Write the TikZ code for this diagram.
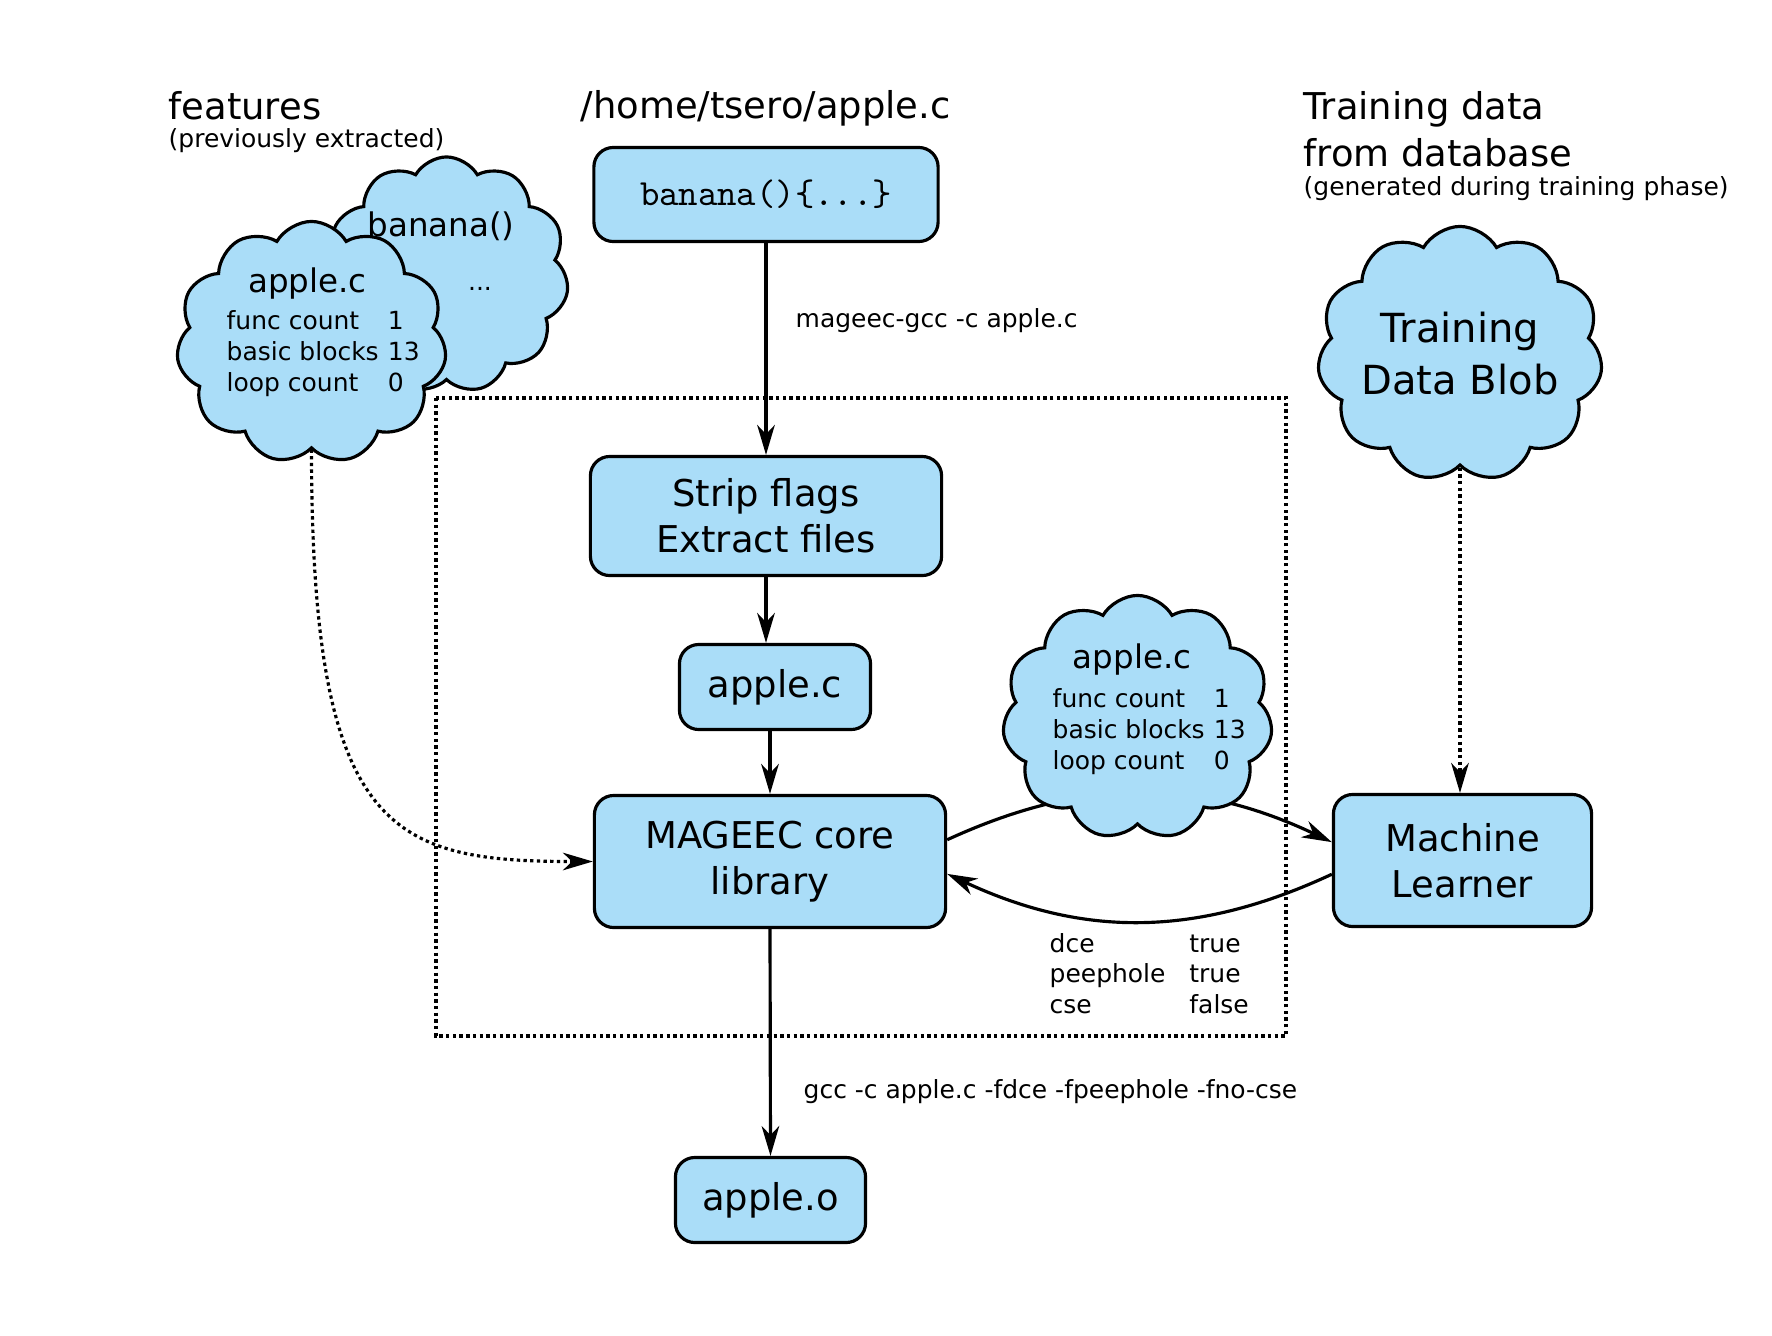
\documentclass[tikz,border=0pt]{standalone}
\usepackage{fontspec}
\setmainfont{DejaVu Sans}
\usepackage{xcolor}
\usetikzlibrary{shapes.symbols, arrows.meta, backgrounds}

\definecolor{boxblue}{RGB}{170,221,248}

\begin{document}
\begin{tikzpicture}[x=0.01cm, y=0.01cm,
    box/.style={draw, line width=0.9pt, fill=boxblue, rounded corners=5.5pt, inner sep=0pt, align=center, font=\fontsize{10.5}{13.1}\selectfont},
    puff/.style={draw, line width=0.9pt, fill=boxblue, cloud, cloud puffs=11, cloud puff arc=120, inner sep=0pt, align=center},
    heading/.style={inner sep=0pt, anchor=base west, font=\fontsize{10.5}{13.1}\selectfont},
    note/.style={inner sep=0pt, anchor=base west, font=\fontsize{7.1}{8.9}\selectfont},
    puffname/.style={inner sep=0pt, anchor=base, font=\fontsize{9.25}{11}\selectfont},
    arrow/.style={-{Stealth[length=8.5pt, width=5pt, inset=2.6pt]}, line width=0.9pt},
    dotarrow/.style={arrow, dash pattern=on 0.95pt off 0.95pt},
  ]
    \useasboundingbox (0,0) rectangle (1772,-1336);

    % headings
    \node[heading] (feathead) at (168,-119) {features};
    \node[note] (featnote) at (168,-147) {(previously extracted)};
    \node[heading] (srchead) at (580,-118) {/home/tsero/apple.c};
    \node[heading] (trainhead) at (1303,-119) {Training data};
    \node[heading] (trainheadb) at (1303,-166) {from database};
    \node[note] (trainnote) at (1303,-195) {(generated during training phase)};

    % boxes
    \node[box, minimum width=3.44cm, minimum height=0.94cm, font=\fontsize{10.5}{13.1}\selectfont\ttfamily] (code) at (766,-194.5) {banana()\{...\}};
    \node[box, minimum width=3.51cm, minimum height=1.19cm] (strip) at (766,-516) {Strip flags\\Extract files};
    \node[box, minimum width=1.91cm, minimum height=0.85cm] (applec) at (775,-687) {apple.c};
    \node[box, minimum width=3.51cm, minimum height=1.32cm] (core) at (770,-861.5) {MAGEEC core\\library};
    \node[box, minimum width=1.90cm, minimum height=0.85cm] (appleo) at (770.5,-1200) {apple.o};
    \node[box, minimum width=2.58cm, minimum height=1.32cm] (learner) at (1462.5,-860.5) {Machine\\Learner};

    % clouds
    \node[puff, minimum width=2.44cm, minimum height=2.36cm] (bfeat) at (446.5,-275) {};
    \node[puffname] (bfeatname) at (441,-236) {banana()};
    \node[note, anchor=base] (bfeatmore) at (480,-290) {...};
    \node[puff, minimum width=2.70cm, minimum height=2.42cm] (afeat) at (311.5,-342.5) {};
    \node[puffname] (afeatname) at (307.5,-292) {apple.c};
    \node[note] (afeatlist) at (226,-329) {\begin{tabular}[t]{@{}l@{\hspace{2.6pt}}l@{}}func count & 1\\basic blocks & 13\\loop count & 0\end{tabular}};
    \node[puff, minimum width=2.70cm, minimum height=2.44cm] (pfeat) at (1137.5,-717.5) {};
    \node[puffname] (pfeatname) at (1132,-668) {apple.c};
    \node[note] (pfeatlist) at (1052,-707) {\begin{tabular}[t]{@{}l@{\hspace{2.6pt}}l@{}}func count & 1\\basic blocks & 13\\loop count & 0\end{tabular}};
    \node[puff, minimum width=2.85cm, minimum height=2.55cm] (blob) at (1460,-354) {};
    \node[align=center, inner sep=0pt, font=\fontsize{11.4}{14.8}\selectfont] (blobname) at (1460,-354) {Training\\Data Blob};

    % labels
    \node[note] (compile) at (795,-327) {mageec-gcc -c apple.c};
    \node[note] (gccflags) at (803,-1098) {gcc -c apple.c -fdce -fpeephole -fno-cse};
    \node[note, font=\fontsize{7.1}{8.7}\selectfont] (flagvals) at (1049,-952) {\begin{tabular}[t]{@{}l@{\hspace{6.8pt}}l@{}}dce & true\\peephole & true\\cse & false\end{tabular}};

    \draw[line width=0.9pt, dash pattern=on 0.95pt off 0.95pt] (436,-398) rectangle (1286,-1036);

    \begin{pgfonlayer}{background}
        \draw[arrow] (code) -- (strip);
        \draw[arrow] (strip.south) -- (strip.south |- applec.north);
        \draw[arrow] (core.north |- applec.south) -- (core.north);
        \draw[arrow] (core.south) -- (appleo.north);
        \draw[arrow] (core.7) to[bend left=25] (learner.172);
        \draw[arrow] (learner.186) to[bend left=25] (core.-4);
        \draw[dotarrow] (blob.center) -- (blob.center |- learner.north);
        \draw[dotarrow] (afeat.center) -- (afeat.south)
            .. controls +(0,-383) and +(-202,0) .. (core.west);
    \end{pgfonlayer}
\end{tikzpicture}
\end{document}
